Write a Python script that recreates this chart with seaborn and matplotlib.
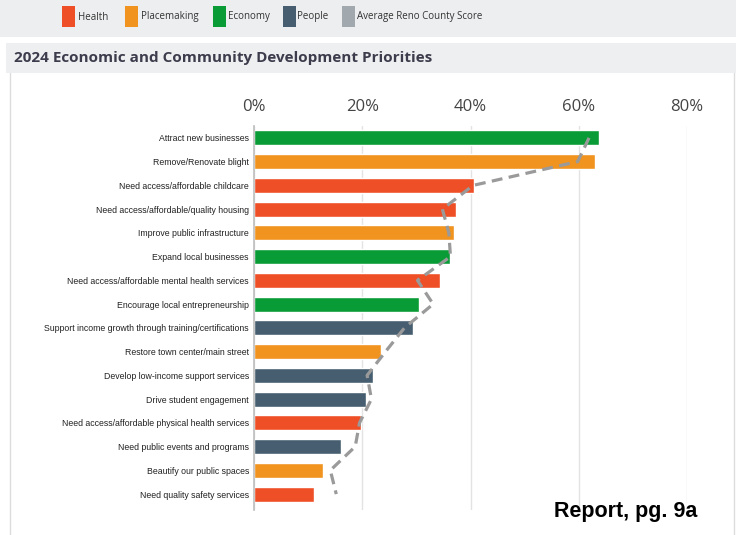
import matplotlib
matplotlib.use("Agg")
import matplotlib.pyplot as plt
import seaborn as sns
import numpy as np
import pandas as pd
from matplotlib.patches import Rectangle
from matplotlib.lines import Line2D

categories = [
    "Attract new businesses",
    "Remove/Renovate blight",
    "Need access/affordable childcare",
    "Need access/affordable/quality housing",
    "Improve public infrastructure",
    "Expand local businesses",
    "Need access/affordable mental health services",
    "Encourage local entrepreneurship",
    "Support income growth through training/certifications",
    "Restore town center/main street",
    "Develop low-income support services",
    "Drive student engagement",
    "Need access/affordable physical health services",
    "Need public events and programs",
    "Beautify our public spaces",
    "Need quality safety services",
]
groups = [
    "Economy", "Placemaking", "Health", "Health", "Placemaking", "Economy",
    "Health", "Economy", "People", "Placemaking", "People", "People",
    "Health", "People", "Placemaking", "Health",
]
values = [63.7, 63.0, 40.6, 37.4, 37.0, 36.3, 34.4, 30.4, 29.3, 23.5,
          21.9, 20.7, 19.8, 16.1, 12.8, 11.1]
average = [61.9, 59.8, 40.5, 34.8, 36.0, 36.3, 30.2, 33.1, 27.8, 24.3,
           20.9, 21.7, 19.5, 18.7, 14.1, 15.2]
xticks = [0, 20, 40, 60, 80]
xtick_labels = ["0%", "20%", "40%", "60%", "80%"]
legend_labels = ["Health", "Placemaking", "Economy", "People", "Average Reno County Score"]
title = "2024 Economic and Community Development Priorities"
footnote = "Report, pg. 9a"

palette = {"Health": "#ee4f27", "Placemaking": "#f0931f",
           "Economy": "#099b36", "People": "#465e6f"}
avg_color = "#a2a9ae"
line_color = "#9a9a9a"

df = pd.DataFrame({"category": categories, "group": groups, "value": values})

sns.set_theme(style="white")
plt.rcParams['font.family'] = ['Liberation Sans', 'DejaVu Sans']

W, H = 736, 535
fig = plt.figure(figsize=(W / 100, H / 100), dpi=100)

def fx(px):
    return px / W

def fy(py):
    return 1 - py / H

# background bands
fig.add_artist(Rectangle((0, fy(37)), 1, 37 / H, transform=fig.transFigure,
                         color="#eceef0", zorder=0, lw=0))
fig.add_artist(Rectangle((fx(6), fy(73)), 730 / W, 30 / H, transform=fig.transFigure,
                         color="#eeeff1", zorder=0, lw=0))
fig.add_artist(Line2D([fx(10), fx(10)], [0, fy(73)], transform=fig.transFigure,
                      color="#dcdcdc", lw=1))
fig.add_artist(Line2D([fx(734), fx(734)], [0, fy(73)], transform=fig.transFigure,
                      color="#dcdcdc", lw=1))

# legend
leg_colors = [palette["Health"], palette["Placemaking"], palette["Economy"],
              palette["People"], avg_color]
sq_x = [62, 125, 213, 283, 342]
tx_x = [78, 141, 228, 297, 357]
for lab, c, sx, tx in zip(legend_labels, leg_colors, sq_x, tx_x):
    fig.add_artist(Rectangle((fx(sx), fy(27)), 13 / W, 21 / H, transform=fig.transFigure,
                             color=c, lw=0))
    fig.text(fx(tx), fy(17), lab, ha="left", va="center", fontsize=7.0,
             family=["Open Sans", "DejaVu Sans"], color="#333333")

fig.text(fx(14), fy(58), title, ha="left", va="center", fontsize=11.0,
         weight="bold", family=["Open Sans", "DejaVu Sans"], color="#3c3c4c")

ax = fig.add_axes([fx(254), fy(510), (687 - 254) / W, (510 - 126) / H])
ax.set_facecolor("white")
sns.barplot(data=df, x="value", y="category", hue="group", palette=palette,
            dodge=False, width=0.63, legend=False, saturation=1, ax=ax, zorder=2)
ax.plot(average, np.arange(len(categories)), color=line_color, lw=2.3,
        linestyle=(0, (3.4, 2.0)), zorder=3, solid_capstyle="butt")

ax.set_xlim(0, 80)
ax.set_ylim(15.67, -0.5)
ax.set_xticks(xticks)
ax.set_xticklabels(xtick_labels)
ax.xaxis.tick_top()
ax.tick_params(axis="x", length=0, pad=8, labelsize=12, labelcolor="#444444")
for t in ax.get_xticklabels():
    t.set_family(["Open Sans", "DejaVu Sans"])
ax.tick_params(axis="y", length=0, pad=3.6, labelsize=6.35, labelcolor="#222222")
ax.set_xlabel("")
ax.set_ylabel("")
ax.grid(axis="x", color="#e3e3e3", lw=1, zorder=0)
ax.set_axisbelow(True)
for s in ["top", "right", "bottom"]:
    ax.spines[s].set_visible(False)
ax.spines["left"].set_color("#bdbdbd")
ax.spines["left"].set_linewidth(1.2)

fig.text(fx(697), fy(512), footnote, ha="right", va="center", fontsize=15.5,
         weight="bold", color="black", family=["Liberation Sans", "DejaVu Sans"])

fig.savefig("out.png", dpi=100)
